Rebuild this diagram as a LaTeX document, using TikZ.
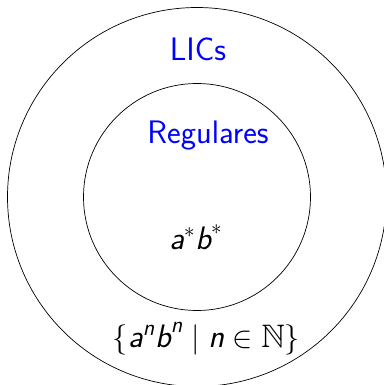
\documentclass[tikz,border=0pt]{standalone}
\usepackage{amsmath,amssymb}
\usepackage{xcolor}
\usepackage{tikz}

\newcommand{\sv}[1]{\text{\sffamily\itshape #1}}

\begin{document}
\begin{tikzpicture}[font=\fontsize{18.5}{22}\selectfont\sffamily]
  \useasboundingbox (0,0) rectangle (7.68,7.70);
  \coordinate (c) at (3.94,3.76);
  \draw[thin] (c) circle (3.79);
  \draw[thin] (c) circle (2.27);
  \node[blue, anchor=base] (lics) at (3.96,6.48) {LICs};
  \node[blue, anchor=base] (reg) at (4.16,4.82) {Regulares};
  \node[anchor=base] (astarb) at (3.92,2.72) {$\sv{a}^*\sv{b}^*$};
  \node[anchor=base] (anbn) at (4.13,0.76)
    {$\{\sv{a}^{\sv{n}}\sv{b}^{\sv{n}} \mid \sv{n} \in \mathbb{N}\}$};
\end{tikzpicture}
\end{document}
